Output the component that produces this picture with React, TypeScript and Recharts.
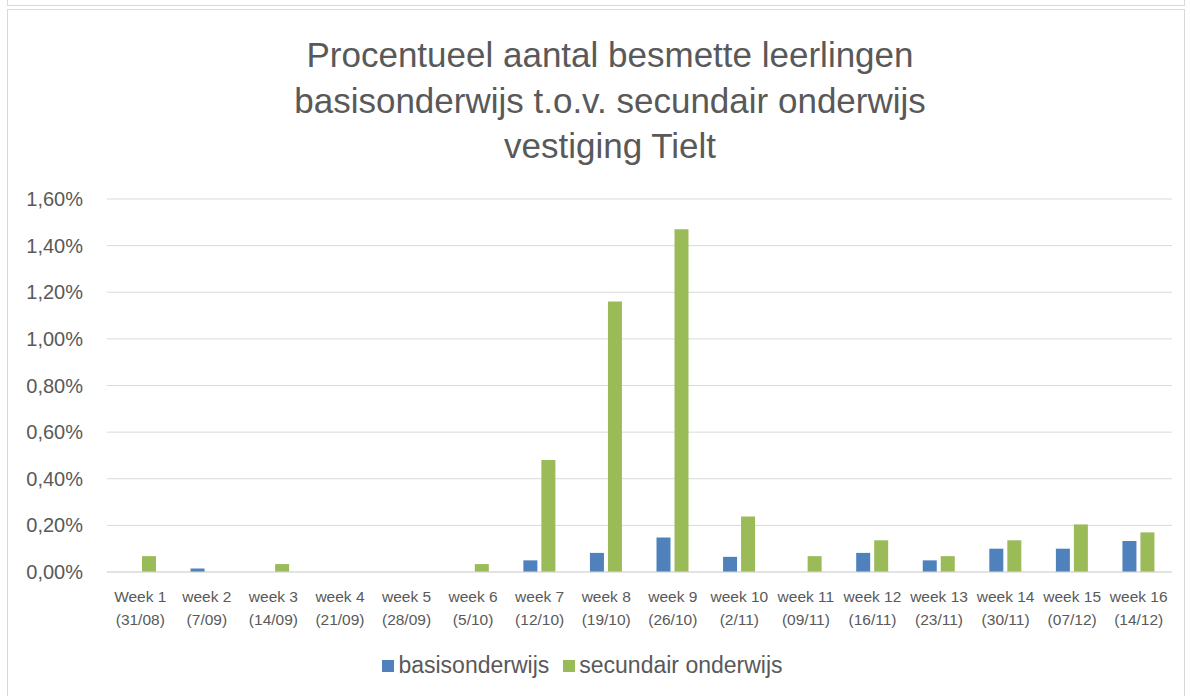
import React from 'react';
import { BarChart, Bar, XAxis, YAxis, CartesianGrid, Legend } from 'recharts';

const weeks = ['Week 1', 'week 2', 'week 3', 'week 4', 'week 5', 'week 6', 'week 7', 'week 8', 'week 9', 'week 10', 'week 11', 'week 12', 'week 13', 'week 14', 'week 15', 'week 16'];
const dates = ['(31/08)', '(7/09)', '(14/09)', '(21/09)', '(28/09)', '(5/10)', '(12/10)', '(19/10)', '(26/10)', '(2/11)', '(09/11)', '(16/11)', '(23/11)', '(30/11)', '(07/12)', '(14/12)'];
// percentages
const basis = [0, 0.015, 0, 0, 0, 0, 0.05, 0.082, 0.148, 0.065, 0, 0.082, 0.05, 0.1, 0.1, 0.133];
const secundair = [0.068, 0, 0.034, 0, 0, 0.034, 0.48, 1.16, 1.47, 0.238, 0.068, 0.136, 0.068, 0.136, 0.204, 0.17];
const yTicks = [0, 0.2, 0.4, 0.6, 0.8, 1.0, 1.2, 1.4, 1.6];

const data = weeks.map((w, i) => ({
  week: w,
  date: dates[i],
  basisonderwijs: basis[i],
  secundair: secundair[i]
}));

const FONT = '"Liberation Sans", Arial, sans-serif';
const GREY = '#595959';

const fmt = (v: number) => v.toFixed(2).replace('.', ',') + '%';

const XTick = (props: any) => {
  const { x, y, payload, index } = props;
  return <g>
      <text x={x} y={y + 22} textAnchor="middle" fontSize={15.5} fill={GREY} fontFamily={FONT}>{payload.value}</text>
      <text x={x} y={y + 45} textAnchor="middle" fontSize={15.5} fill={GREY} fontFamily={FONT}>{dates[index]}</text>
    </g>;
};

const YTick = (props: any) => {
  const { y, payload } = props;
  return <text x={83} y={y + 7} textAnchor="end" fontSize={20} fill={GREY} fontFamily={FONT}>{fmt(payload.value)}</text>;
};

const App = () => {
  return <div style={{ position: 'fixed', left: 0, top: 0, width: 1190, height: 696, background: '#fff', overflow: 'hidden' }}>
      <div style={{ position: 'absolute', left: 7, top: -10, width: 1176, height: 14, border: '1px solid #d9d9d9' }} />
      <div style={{ position: 'absolute', left: 7, top: 9, width: 1176, height: 700, border: '1px solid #d9d9d9' }} />
      <div style={{ position: 'absolute', left: 0, top: 32, width: 1220, textAlign: 'center', fontFamily: FONT, fontSize: 35, lineHeight: '45.5px', color: GREY }}>
        Procentueel aantal besmette leerlingen<br />
        basisonderwijs t.o.v. secundair onderwijs<br />
        vestiging Tielt
      </div>
      <div style={{ position: 'absolute', left: 0, top: 0 }}>
        <BarChart width={1190} height={696} data={data} margin={{ top: 199, right: 18, left: 7, bottom: 0 }} barSize={14} barGap={4}>
          <CartesianGrid vertical={false} stroke="#d9d9d9" />
          <XAxis dataKey="week" interval={0} height={80} tick={<XTick />} tickLine={false} axisLine={{ stroke: '#d9d9d9' }} />
          <YAxis width={100} domain={[0, 1.6]} ticks={yTicks} tick={<YTick />} tickLine={false} axisLine={false} />
          <Legend verticalAlign="bottom" height={44} iconType="square" iconSize={12}
            formatter={(v: string) => <span style={{ color: GREY, fontSize: 23, fontFamily: FONT, marginRight: 4, verticalAlign: 'middle' }}>{v}</span>} />
          <Bar dataKey="basisonderwijs" name="basisonderwijs" fill="#4f81bd" isAnimationActive={false} />
          <Bar dataKey="secundair" name="secundair onderwijs" fill="#9bbb59" isAnimationActive={false} />
        </BarChart>
      </div>
    </div>;
};

export default App;
